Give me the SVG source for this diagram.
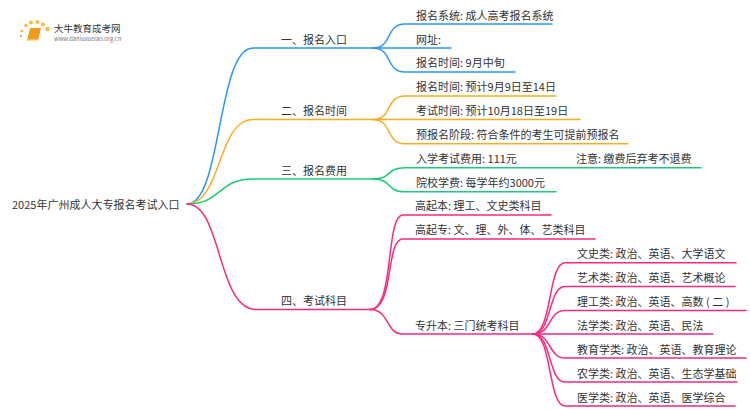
<svg xmlns="http://www.w3.org/2000/svg" width="750" height="410" viewBox="0 0 750 410">
<style>
text{font-family:"Noto Sans CJK SC","Noto Sans",sans-serif;font-size:11px;fill:#333}
.c path{fill:none;stroke-width:1.5;stroke-linecap:round}
.b{stroke:#2a96fb}.o{stroke:#f8ad20}.g{stroke:#1fc979}.p{stroke:#fb2a7e}
</style>
<rect width="750" height="410" fill="#fff"/>
<g id="logo">
<g fill="#f9b93c"><circle cx="21" cy="36" r="1.2"/><circle cx="22" cy="31" r="1.4"/><circle cx="26" cy="25.500" r="1.7"/><circle cx="31" cy="22.500" r="2"/><circle cx="37.500" cy="22" r="2"/><circle cx="43" cy="24.500" r="2"/><circle cx="47.500" cy="29" r="2.200"/></g>
<path d="M30 28h11l-3 13h-11z" fill="#f39a1e"/><path d="M27.500 41h10.500l.5-1.500h-10z" fill="#fde3ae"/>
<text x="54" y="32" style="font-size:9.500px">大牛教育成考网</text>
<text x="54" y="41" style="font-size:5.800px;fill:#777">www.daniuxueiao.org.cn</text>
</g>
<g class="c" id="connectors">
<path class="b" d="M187 204C222 204 217 48 253 48H373"/>
<path class="o" d="M187 204C222 204 217 119.500 253 119.500H373"/>
<path class="g" d="M187 204C222 204 217 179 253 179H373"/>
<path class="p" d="M187 204C222 204 217 309.500 256 309.500H370"/>
<path class="b" d="M373 48C393 48 385 24 405 24H552"/>
<path class="b" d="M373 48H451"/>
<path class="b" d="M373 48C393 48 385 72 405 72H515"/>
<path class="o" d="M373 119.500C393 119.500 385 96 405 96H556"/>
<path class="o" d="M373 119.500H580"/>
<path class="o" d="M373 119.500C393 119.500 385 143.700 405 143.700H628"/>
<path class="g" d="M373 179C393 179 385 167.700 405 167.700H565"/>
<path class="g" d="M373 179C393 179 385 191.700 405 191.700H556"/>
<path class="g" d="M565 167.700H701"/>
<path class="p" d="M370 309.500C395 309.500 385 215 403 215H551"/>
<path class="p" d="M370 309.500C395 309.500 385 239 403 239H595"/>
<path class="p" d="M370 309.500C390 309.500 385 334 403 334H533"/>
<path class="p" d="M533 334C552 334 548 262.700 565 262.700H736"/>
<path class="p" d="M533 334C552 334 548 286.500 565 286.500H735"/>
<path class="p" d="M533 334C552 334 548 310.500 565 310.500H746"/>
<path class="p" d="M533 334H713"/>
<path class="p" d="M533 334C552 334 548 358 565 358H746"/>
<path class="p" d="M533 334C552 334 548 382 565 382H737"/>
<path class="p" d="M533 334C552 334 548 406 565 406H735"/>
</g>
<g id="root"><text x="12" y="209">2025年广州成人大专报名考试入口</text></g>
<g id="n1"><text x="281" y="43.500">一、报名入口</text></g>
<g id="n2"><text x="281" y="114.500">二、报名时间</text></g>
<g id="n3"><text x="281" y="174.500">三、报名费用</text></g>
<g id="n4"><text x="281" y="305">四、考试科目</text></g>
<g id="n11"><text x="416" y="19.500">报名系统: 成人高考报名系统</text></g>
<g id="n12"><text x="416" y="43.500">网址:</text></g>
<g id="n13"><text x="416" y="67">报名时间: 9月中旬</text></g>
<g id="n21"><text x="416" y="91">报名时间: 预计9月9日至14日</text></g>
<g id="n22"><text x="416" y="115">考试时间: 预计10月18日至19日</text></g>
<g id="n23"><text x="416" y="139">预报名阶段: 符合条件的考生可提前预报名</text></g>
<g id="n31"><text x="416" y="163">入学考试费用: 111元</text></g>
<g id="n311"><text x="576" y="163">注意: 缴费后弃考不退费</text></g>
<g id="n32"><text x="416" y="187">院校学费: 每学年约3000元</text></g>
<g id="n41"><text x="415" y="210">高起本: 理工、文史类科目</text></g>
<g id="n42"><text x="415" y="234">高起专: 文、理、外、体、艺类科目</text></g>
<g id="n43"><text x="415" y="330">专升本: 三门统考科目</text></g>
<g id="n431"><text x="577" y="258">文史类: 政治、英语、大学语文</text></g>
<g id="n432"><text x="577" y="282">艺术类: 政治、英语、艺术概论</text></g>
<g id="n433"><text x="577" y="306">理工类: 政治、英语、高数 ( 二 )</text></g>
<g id="n434"><text x="577" y="330">法学类: 政治、英语、民法</text></g>
<g id="n435"><text x="577" y="354">教育学类: 政治、英语、教育理论</text></g>
<g id="n436"><text x="577" y="378">农学类: 政治、英语、生态学基础</text></g>
<g id="n437"><text x="577" y="402">医学类: 政治、英语、医学综合</text></g>
</svg>
